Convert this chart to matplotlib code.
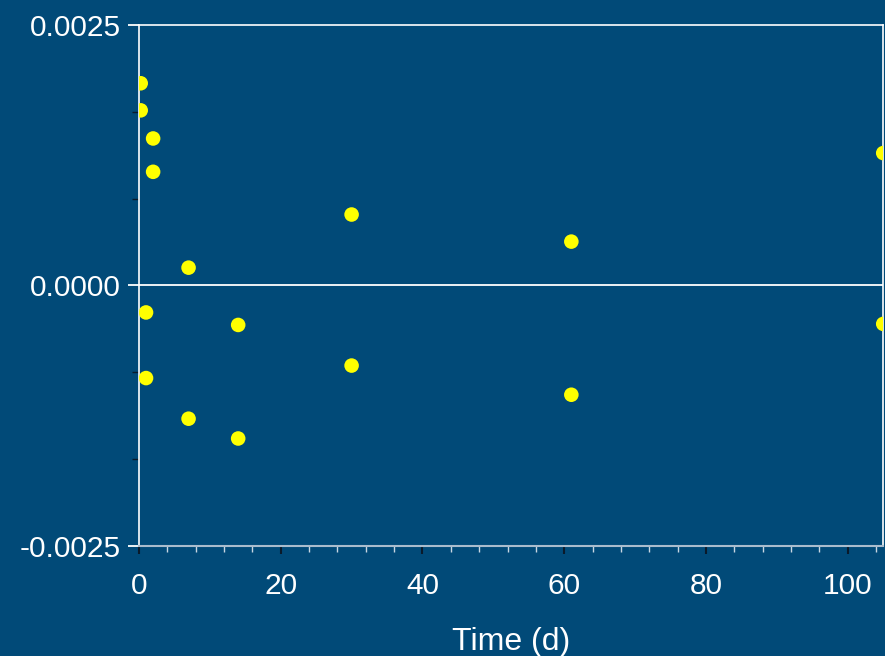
import matplotlib.pyplot as plt
import numpy as np
from matplotlib.ticker import MultipleLocator

plt.rcParams['font.family'] = ['Liberation Sans', 'DejaVu Sans']

bg = '#014a78'

# residuals vs time
time_d = [0.25, 0.25, 2, 2, 7, 1, 14, 1, 7, 14, 30, 30, 61, 61, 105, 105]
resid = [0.00194, 0.00168, 0.00141, 0.00109, 0.00017, -0.00026, -0.00038,
         -0.00089, -0.00128, -0.00147, 0.00068, -0.00077, 0.00042, -0.00105,
         0.00127, -0.00037]

fig = plt.figure(figsize=(8.85, 6.56), dpi=100, facecolor=bg)
ax = fig.add_axes([0.157, 0.168, 0.841, 0.794], facecolor=bg)

ax.axhline(0, color='white', lw=1.3, zorder=1)
ax.scatter(time_d, resid, s=110, color='#ffff00', edgecolors='none', zorder=3)

ax.set_xlim(0, 105)
ax.set_ylim(-0.0025, 0.0025)
ax.set_yticks([-0.0025, 0.0, 0.0025])
ax.set_yticklabels(['-0.0025', '0.0000', '0.0025'])
ax.yaxis.set_minor_locator(MultipleLocator(0.0025 / 3))
ax.xaxis.set_major_locator(MultipleLocator(20))
ax.xaxis.set_minor_locator(MultipleLocator(4))

for side in ['top', 'left', 'right']:
    ax.spines[side].set_color('white')
    ax.spines[side].set_linewidth(1.2)
ax.spines['bottom'].set_color('#a9bccd')
ax.spines['bottom'].set_linewidth(1.5)

ax.tick_params(axis='y', which='major', length=8, width=1.3, color='white',
               labelcolor='white', labelsize=21.5, pad=5)
ax.tick_params(axis='y', which='minor', length=5, width=1, color='#0a1a2a')
ax.tick_params(axis='x', which='major', length=6, width=1.5, color='#0a1a2a',
               labelcolor='white', labelsize=21.5, pad=13)
ax.tick_params(axis='x', which='minor', length=4, width=1, color='#c8d6e2')

ax.set_xlabel('Time (d)', color='white', fontsize=23, labelpad=19)

plt.savefig('out.png', dpi=100, facecolor=bg)
